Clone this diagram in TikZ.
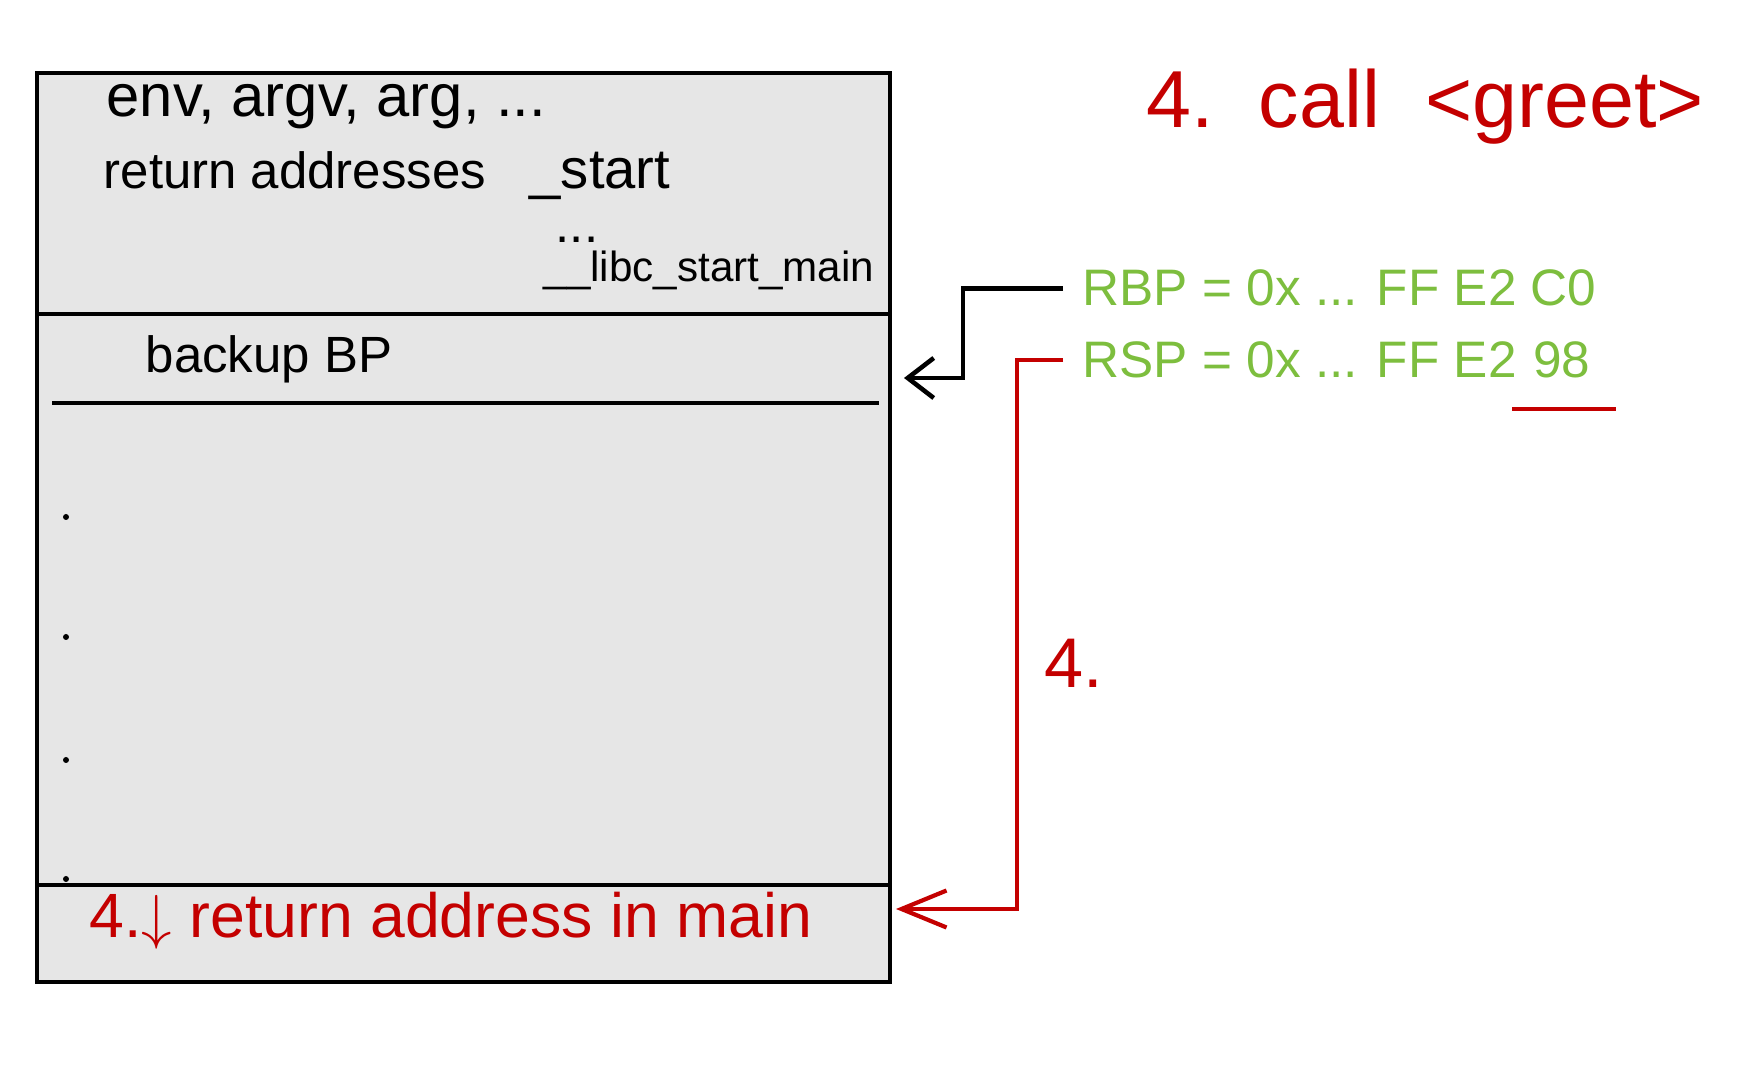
\documentclass[tikz,border=0pt]{standalone}
\usepackage{fontspec}
\setmainfont{Liberation Sans}
\usepackage{tikz}
\usetikzlibrary{arrows.meta, positioning}

\definecolor{penred}{RGB}{196,0,0}
\definecolor{pengreen}{RGB}{125,190,62}
\definecolor{stackgray}{RGB}{230,230,230}

\tikzstyle{stackbox} = [rectangle, draw=black, line width=1pt, fill=stackgray, minimum width=8.53cm, minimum height=9.09cm, inner sep=0pt]
\tikzstyle{divider} = [draw=black, line width=1pt]
\tikzstyle{slottext} = [anchor=base west, inner sep=0pt, font=\fontsize{14.5}{17}\selectfont]
\tikzstyle{smalltext} = [anchor=base west, inner sep=0pt, font=\fontsize{12}{14}\selectfont]
\tikzstyle{regtext} = [anchor=base west, inner sep=0pt, text=pengreen, font=\fontsize{14.6}{17}\selectfont]
\tikzstyle{redtext} = [anchor=base west, inner sep=0pt, text=penred, font=\fontsize{17.8}{21}\selectfont]
\tikzstyle{titletext} = [anchor=base west, inner sep=0pt, text=penred, font=\fontsize{23}{27}\selectfont]
\tikzstyle{stackdot} = [circle, fill=black, inner sep=0pt, minimum size=0.6mm]
\tikzstyle{blackline} = [draw=black, line width=1.3pt, -{Straight Barb[length=2.6mm,width=4mm]}]
\tikzstyle{redline} = [draw=penred, line width=1.2pt, -{Straight Barb[length=4.5mm,width=3.7mm]}]
\tikzstyle{redunder} = [draw=penred, line width=1.2pt]

\begin{document}
\begin{tikzpicture}[node distance = 2cm, auto]
        \fill[white] (0,0) rectangle (17.45,10.73);
        \useasboundingbox (0,0) rectangle (17.45,10.73);

        % the stack
        \node (stack) [stackbox] at (4.635,5.455) {};
        \draw [divider] (0.37,7.59) -- (8.90,7.59);
        \draw [divider] (0.52,6.70) -- (8.79,6.70);
        \draw [divider] (0.37,1.88) -- (8.90,1.88);

        \node (args) [slottext, font=\fontsize{17}{20}\selectfont] at (1.06,9.56) {env, argv, arg, ...};
        \node (retaddr) [slottext] at (1.03,8.84) {return addresses};
        \node (start) [slottext, font=\fontsize{16}{19}\selectfont] at (5.29,8.84) {\_start};
        \node (more) [slottext] at (5.55,8.30) {...};
        \node (libc) [smalltext] at (5.43,7.91) {\_\_libc\_start\_main};
        \node (backup) [slottext] at (1.45,7.00) {backup BP};
        \foreach \y [count=\i] in {5.56,4.36,3.13,1.94}
                \node (dot\i) [stackdot] at (0.66,\y) {};
        \node (retmain) [redtext] at (0.89,1.35) {4.$\downarrow$ return address in main};

        % registers
        \node (title) [titletext] at (11.46,9.45) {4.~~call~~<greet>};
        \node (rbp) [regtext] at (10.82,7.67) {RBP = 0x ... FF E2 C0};
        \node (rsp) [regtext] at (10.82,6.95) {RSP = 0x ... FF E2};
        \node (rsp98) [regtext, base right=0.15cm of rsp] {98};
        \node (step) [redtext, font=\fontsize{20}{24}\selectfont] at (10.44,3.85) {4.};

        \coordinate (bptip) at (9.04,6.95);
        \coordinate (rettip) at (8.96,1.64);

        % Draw edges
        \path [blackline] ([xshift=-0.19cm]rbp.west) -- ++(-1.0,0) |- (bptip);
        \path [redline] ([xshift=-0.19cm]rsp.west) -- ++(-0.46,0) |- (rettip);
        \path [redunder] ([xshift=-0.2cm,yshift=-0.3cm]rsp98.south west) -- ([xshift=0.25cm,yshift=-0.3cm]rsp98.south east);

\end{tikzpicture}
\end{document}
